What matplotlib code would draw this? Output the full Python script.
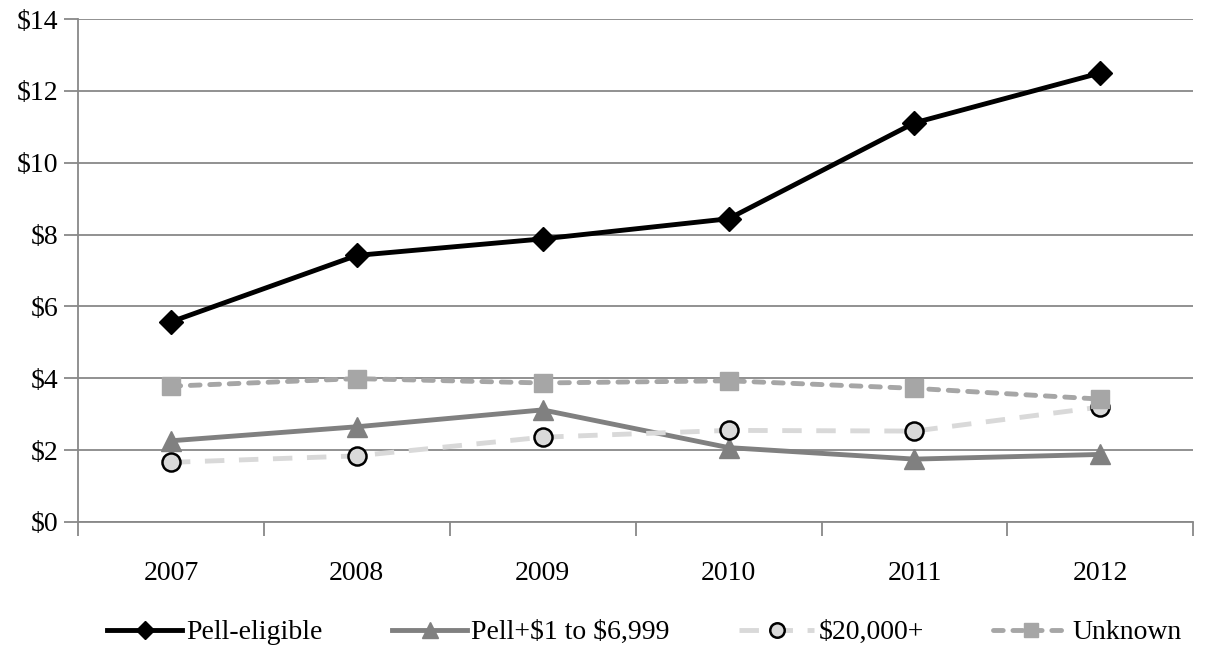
import matplotlib.pyplot as plt
import numpy as np

plt.rcParams['font.family'] = ['Liberation Serif', 'DejaVu Serif']

years = ['2007', '2008', '2009', '2010', '2011', '2012']
pell_eligible = [5.57, 7.42, 7.88, 8.44, 11.11, 12.50]
pell_low = [2.26, 2.65, 3.12, 2.07, 1.75, 1.88]
high_income = [1.66, 1.84, 2.36, 2.55, 2.53, 3.20]
unknown = [3.78, 3.99, 3.87, 3.93, 3.72, 3.42]

fig = plt.figure(figsize=(12.09, 6.63), dpi=100)
ax = fig.add_axes([0.0645, 0.2127, 0.9225, 0.7586])
x = np.arange(len(years))

ax.plot(x, pell_eligible, color='black', lw=3.5, marker='D', ms=12,
        label='Pell-eligible', zorder=3)
ax.plot(x, pell_low, color='#808080', lw=3.5, marker='^', ms=14,
        label='Pell+\\$1 to \\$6,999', zorder=3)
ax.plot(x, high_income, color='#d9d9d9', lw=3.5, ls=(0, (4, 3)),
        marker='o', ms=13, mfc='#d9d9d9', mec='black', mew=1.8,
        label='\\$20,000+', zorder=3)
ax.plot(x, unknown, color='#a6a6a6', lw=3.5, ls=(0, (2, 2)),
        dash_capstyle='round', marker='s', ms=13,
        label='Unknown', zorder=3)

ax.set_xlim(-0.5, 5.5)
ax.set_ylim(0, 14)
ax.set_yticks(np.arange(0, 15, 2))
ax.set_yticklabels([f'${v}' for v in range(0, 15, 2)])
ax.set_xticks(x)
ax.set_xticklabels(years)
ax.set_xticks(np.arange(-0.5, 6, 1), minor=True)
ax.tick_params(axis='x', which='major', length=0, pad=28, labelsize=20)
ax.tick_params(axis='x', which='minor', length=10, color='#888888', width=1.3)
ax.tick_params(axis='y', length=10, color='#888888', width=1.3, labelsize=20, pad=4)

ax.grid(axis='y', color='#888888', lw=1.3, zorder=0)
for s in ['top', 'right']:
    ax.spines[s].set_visible(False)
for s in ['left', 'bottom']:
    ax.spines[s].set_color('#888888')
    ax.spines[s].set_linewidth(1.3)

ax.legend(loc='center', bbox_to_anchor=(0.508, -0.22), ncol=4,
          frameon=False, fontsize=20, handlelength=2.7, columnspacing=2.5,
          handletextpad=0.15, markerscale=0.8)

fig.savefig('out.png')
